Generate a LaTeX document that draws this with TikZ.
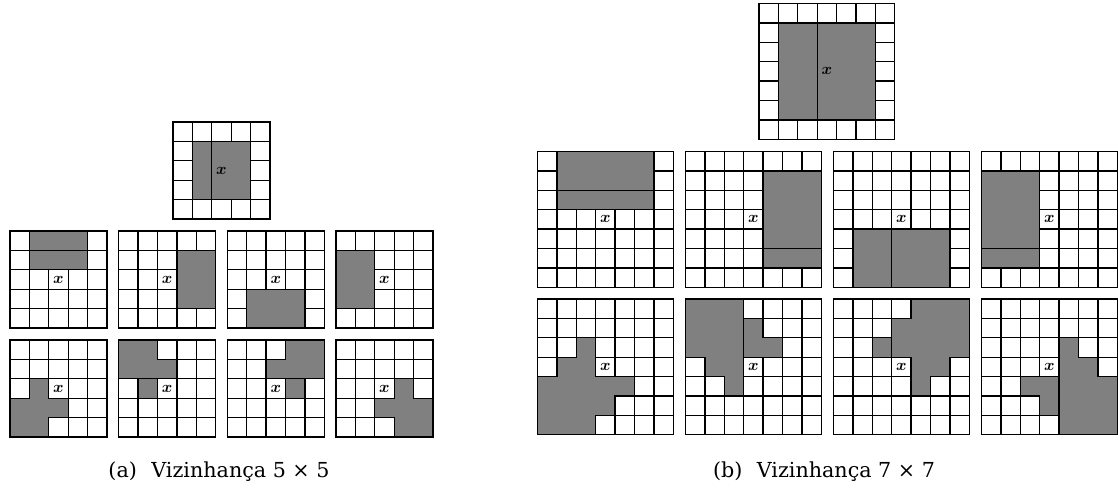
\documentclass[tikz,border=0pt]{standalone}
\usepackage{amsmath}
\usepackage{fontspec}
\setmainfont{DejaVu Serif}

% one neighbourhood window: name, left, top, size, grey region, extra lines
\newcommand{\nbgrid}[6]{%
  \begin{scope}[shift={(#2,#3)},x=14.55pt,y=-14.55pt]
    \foreach \i in {1,...,\numexpr#4-1\relax} {
      \draw[gridline] (\i,0) -- (\i,#4);
      \draw[gridline] (0,\i) -- (#4,\i);
    }
    \draw[gridline] (0,0) rectangle (#4,#4);
    \filldraw[region] #5;
    #6
    \node[midlabel] (#1) at ({#4/2},{#4/2}) {$\boldsymbol{x}$};
  \end{scope}}

\begin{document}
\begin{tikzpicture}[x=0.75pt,y=-0.75pt,
	gridline/.style={line width=1pt,black},
	region/.style={fill=gray,draw=black,line width=1pt},
	midlabel/.style={inner sep=0pt,font=\fontsize{13}{15}\selectfont},
	subcap/.style={anchor=base,inner sep=0pt,font=\fontsize{15.5}{18}\selectfont}]
	\useasboundingbox (0,0) rectangle (1118,487);

	% 5 x 5
	\nbgrid{a0}{173}{122}{5}{(1,1) rectangle (4,4)}{\draw[gridline] (2,1) -- (2,4);}
	\nbgrid{a1}{10}{231}{5}{(1,0) rectangle (4,2)}{\draw[gridline] (1,1) -- (4,1);}
	\nbgrid{a2}{118.7}{231}{5}{(3,1) rectangle (5,4)}{}
	\nbgrid{a3}{227.3}{231}{5}{(1,3) rectangle (4,5)}{}
	\nbgrid{a4}{336}{231}{5}{(0,1) rectangle (2,4)}{}
	\nbgrid{a5}{10}{340}{5}{(1,2) -- (2,2) -- (2,3) -- (3,3) -- (3,4) -- (2,4) -- (2,5) -- (0,5) -- (0,3) -- (1,3) -- cycle}{}
	\nbgrid{a6}{118.7}{340}{5}{(0,0) -- (2,0) -- (2,1) -- (3,1) -- (3,2) -- (2,2) -- (2,3) -- (1,3) -- (1,2) -- (0,2) -- cycle}{\draw[gridline] (1,2) -- (2,2);}
	\nbgrid{a7}{227.3}{340}{5}{(3,0) -- (5,0) -- (5,2) -- (4,2) -- (4,3) -- (3,3) -- (3,2) -- (2,2) -- (2,1) -- (3,1) -- cycle}{\draw[gridline] (3,2) -- (4,2);}
	\nbgrid{a8}{336}{340}{5}{(3,2) -- (4,2) -- (4,3) -- (5,3) -- (5,5) -- (3,5) -- (3,4) -- (2,4) -- (2,3) -- (3,3) -- cycle}{}

	% 7 x 7
	\nbgrid{b0}{759}{3.5}{7}{(1,1) rectangle (6,6)}{\draw[gridline] (3,1) -- (3,6);}
	\nbgrid{b1}{537.5}{151.5}{7}{(1,0) rectangle (6,3)}{\draw[gridline] (1,2) -- (6,2);}
	\nbgrid{b2}{685.5}{151.5}{7}{(4,1) rectangle (7,6)}{\draw[gridline] (4,5) -- (7,5);}
	\nbgrid{b3}{833.5}{151.5}{7}{(1,4) rectangle (6,7)}{\draw[gridline] (3,4) -- (3,7);}
	\nbgrid{b4}{981.5}{151.5}{7}{(0,1) rectangle (3,6)}{\draw[gridline] (0,5) -- (3,5);}
	\nbgrid{b5}{537.5}{299}{7}{(2,2) -- (3,2) -- (3,4) -- (5,4) -- (5,5) -- (4,5) -- (4,6) -- (3,6) -- (3,7) -- (0,7) -- (0,4) -- (1,4) -- (1,3) -- (2,3) -- cycle}{}
	\nbgrid{b6}{685.5}{299}{7}{(0,0) -- (3,0) -- (3,1) -- (4,1) -- (4,2) -- (5,2) -- (5,3) -- (3,3) -- (3,5) -- (2,5) -- (2,4) -- (1,4) -- (1,3) -- (0,3) -- cycle}{\draw[gridline] (3,1) -- (3,3);}
	\nbgrid{b7}{833.5}{299}{7}{(4,0) -- (7,0) -- (7,3) -- (6,3) -- (6,4) -- (5,4) -- (5,5) -- (4,5) -- (4,3) -- (2,3) -- (2,2) -- (3,2) -- (3,1) -- (4,1) -- cycle}{\draw[gridline] (3,2) -- (3,3);}
	\nbgrid{b8}{981.5}{299}{7}{(4,2) -- (5,2) -- (5,3) -- (6,3) -- (6,4) -- (7,4) -- (7,7) -- (4,7) -- (4,6) -- (3,6) -- (3,5) -- (2,5) -- (2,4) -- (4,4) -- cycle}{\draw[gridline] (4,4) -- (4,6);}

	\node[subcap] (capa) at (219,477) {(a)\hskip0.7em Vizinhança 5 × 5};
	\node[subcap] (capb) at (824,477) {(b)\hskip0.7em Vizinhança 7 × 7};
\end{tikzpicture}
\end{document}
